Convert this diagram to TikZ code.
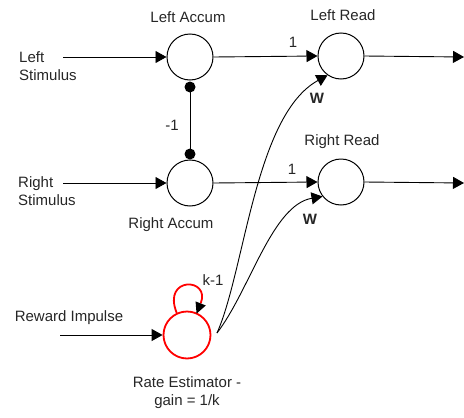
\documentclass[tikz,border=0pt]{standalone}
\usepackage{fontspec}
\setmainfont{Liberation Sans}
\usetikzlibrary{arrows.meta}
\begin{document}
\begin{tikzpicture}[x=1pt,y=1pt,
  lbl/.style={font=\fontsize{15}{18}\selectfont, inner sep=0pt, text=black!85},
  unit/.style={circle, draw, line width=1pt, minimum size=46pt, inner sep=0pt},
  redunit/.style={circle, draw=red, line width=1.8pt, minimum size=47pt, inner sep=0pt},
  conn/.style={line width=0.9pt, -{Triangle[length=11pt,width=12pt]}},
  dotend/.style={line width=0.9pt},
  blob/.style={circle, fill, inner sep=0pt, minimum size=11pt}]
\useasboundingbox (0,0) rectangle (464,-418);
% units
\node[unit] (la) at (190,-57) {};
\node[unit] (ra) at (190,-183) {};
\node[unit] (lr) at (341,-56) {};
\node[unit] (rr) at (341,-182) {};
\node[redunit] (re) at (187,-335) {};
% labels
\node[lbl] (tla) at (188,-17) {Left Accum};
\node[lbl] (tra) at (171,-225) {Right Accum};
\node[lbl] (tlr) at (343,-15) {Left Read};
\node[lbl] (trr) at (342,-142) {Right Read};
\node[lbl, align=left, anchor=west] (tls) at (19,-66) {Left\\Stimulus};
\node[lbl, align=left, anchor=west] (trs) at (18,-191) {Right\\Stimulus};
\node[lbl] (tm1) at (172,-125) {-1};
\node[lbl] (t1a) at (293,-42) {1};
\node[lbl] (t1b) at (292,-169) {1};
\node[lbl, font=\fontsize{15}{18}\selectfont\bfseries] (tw1) at (317,-98) {W};
\node[lbl, font=\fontsize{15}{18}\selectfont\bfseries] (tw2) at (310,-219) {W};
\node[lbl] (tk) at (213,-280) {k-1};
\node[lbl] (trw) at (69,-318) {Reward Impulse};
\node[lbl, align=center] (tre) at (187,-393) {Rate Estimator -\\gain = 1/k};
% coordinates
\coordinate (lsin) at (63,-57);
\coordinate (rsin) at (63,-183);
\coordinate (rwin) at (60,-335);
\coordinate (lout) at (464,-57);
\coordinate (rout) at (464,-183);
\coordinate (src) at (217,-333);
\coordinate (dtop) at (190,-87);
\coordinate (dbot) at (190,-154);
% connectors
\draw[conn] (lsin) -- (la.west);
\draw[conn] (rsin) -- (ra.west);
\draw[conn] (rwin) -- (re.west);
\draw[conn] (la.east) -- (lr.west);
\draw[conn] (ra.east) -- (rr.west);
\draw[conn] (lr.east) -- (lout);
\draw[conn] (rr.east) -- (rout);
\draw[dotend] (dtop) -- (dbot);
\node[blob] (b1) at (dtop) {};
\node[blob] (b2) at (dbot) {};
\draw[conn] (src) .. controls (245,-270) and (255,-115) .. (lr.235);
\draw[conn] (src) .. controls (250,-290) and (272,-205) .. (rr.218);
% self loop
\draw[red, line width=1.8pt, -{Triangle[length=11pt,width=11pt,color=black,line width=0pt]}, shorten >=-1pt]
  (re.115) .. controls +(112:40) and +(68:38) .. (re.66);
\end{tikzpicture}
\end{document}
